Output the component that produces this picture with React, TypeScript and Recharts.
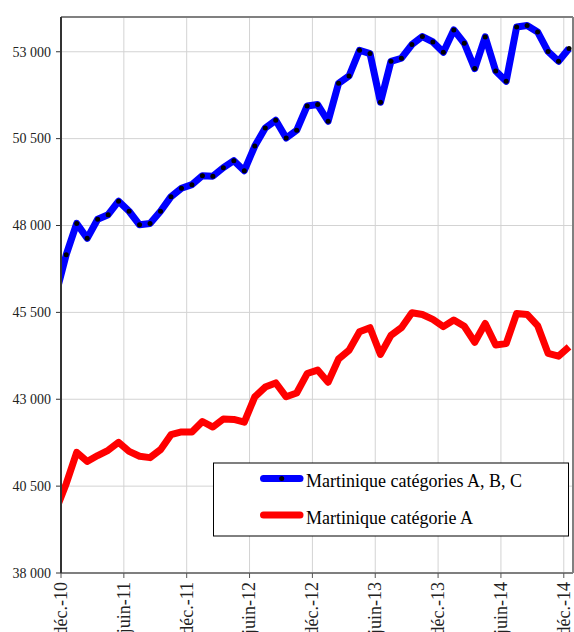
import React from "react"
import {
  LineChart,
  Line,
  XAxis,
  YAxis,
  CartesianGrid,
  ReferenceLine,
} from "recharts"

// monthly values, nov.-10 .. déc.-14 (first point falls just left of the axis)
const abcValues = [
  46000, 47160, 48060, 47630, 48180, 48310, 48700, 48410, 48020, 48060,
  48410, 48830, 49070, 49175, 49435, 49420, 49665, 49866, 49578, 50287,
  50805, 51027, 50517, 50740, 51440, 51480, 51000, 52093, 52303, 53043,
  52948, 51545, 52726, 52813, 53207, 53438, 53282, 52986, 53628, 53245,
  52516, 53426, 52447, 52150, 53714, 53755, 53570, 53006, 52726, 53092,
]

const aValues = [
  39800, 40570, 41470, 41210, 41380, 41530, 41760, 41500, 41360, 41320,
  41550, 41980, 42060, 42060, 42360, 42200, 42430, 42420, 42340, 43070,
  43350, 43470, 43070, 43180, 43740, 43840, 43490, 44160, 44410, 44940,
  45060, 44290, 44840, 45060, 45490, 45440, 45300, 45090, 45280, 45100,
  44640, 45180, 44560, 44600, 45470, 45440, 45120, 44320, 44240, 44510,
]

const xLabels = [
  "déc.-10", "juin-11", "déc.-11", "juin-12", "déc.-12",
  "juin-13", "déc.-13", "juin-14", "déc.-14",
]
const xTicks = [0, 6, 12, 18, 24, 30, 36, 42, 48]
const yTicks = [38000, 40500, 43000, 45500, 48000, 50500, 53000]

const seriesNames = ["Martinique catégories A, B, C", "Martinique catégorie A"]

// months counted from déc.-10, points sit mid-month
const data = abcValues.map((v, i) => ({ x: i - 0.5, abc: v, a: aValues[i] }))

const FONT = '"Liberation Serif", "Times New Roman", Times, serif'
const X_MAX = 48.88

const fmtY = (v: number) =>
  `${Math.floor(v / 1000)} ${String(v % 1000).padStart(3, "0")}`

function XTick({ x, y, payload }: any) {
  const idx = xTicks.indexOf(payload.value)
  return (
    <text
      x={x}
      y={y}
      transform={`rotate(-90, ${x}, ${y})`}
      textAnchor="end"
      dy="0.33em"
      style={{ fontFamily: FONT, fontSize: 18 }}
      fill="#222"
    >
      {xLabels[idx]}
    </text>
  )
}

function YTick({ x, y, payload }: any) {
  return (
    <text
      x={x}
      y={y}
      textAnchor="end"
      dy="0.34em"
      style={{ fontFamily: FONT, fontSize: 14 }}
      fill="#222"
    >
      {fmtY(payload.value)}
    </text>
  )
}

function Dot(props: any) {
  const { cx, cy, payload, index } = props
  if (payload.x < 0) return <g key={index} />
  return <circle key={index} cx={cx} cy={cy} r={2.5} fill="#000" />
}

function ChartLegend() {
  return (
    <svg
      width={574}
      height={632}
      style={{ position: "absolute", left: 0, top: 0, pointerEvents: "none" }}
    >
      <rect x={213.5} y={463} width={355} height={73} fill="#fff" stroke="#000" strokeWidth={1} />
      <line x1={263.5} x2={300} y1={478.5} y2={478.5} stroke="#0000ff" strokeWidth={7} strokeLinecap="round" />
      <circle cx={281.7} cy={478.5} r={2.5} fill="#000" />
      <text x={306} y={486.7} style={{ fontFamily: FONT, fontSize: 18 }} fill="#000">
        {seriesNames[0]}
      </text>
      <line x1={263.5} x2={300} y1={515} y2={515} stroke="#ff0000" strokeWidth={7} strokeLinecap="round" />
      <text x={306} y={524} style={{ fontFamily: FONT, fontSize: 18 }} fill="#000">
        {seriesNames[1]}
      </text>
    </svg>
  )
}

export default function App() {
  return (
    <div
      style={{
        position: "absolute",
        left: 0,
        top: 0,
        width: 574,
        height: 632,
        overflow: "hidden",
        background: "#fff",
        fontFamily: FONT,
      }}
    >
      <LineChart
        width={574}
        height={632}
        data={data}
        margin={{ top: 17, right: 1, left: 0, bottom: 0 }}
      >
        <CartesianGrid stroke="#d3d3d3" strokeWidth={1} />
        <XAxis
          dataKey="x"
          type="number"
          domain={[0, X_MAX]}
          ticks={xTicks}
          allowDataOverflow
          interval={0}
          height={59}
          tickSize={5}
          tickMargin={4}
          axisLine={{ stroke: "#7f7f7f", strokeWidth: 2 }}
          tickLine={{ stroke: "#555" }}
          tick={<XTick />}
        />
        <YAxis
          type="number"
          domain={[38000, 54000]}
          ticks={yTicks}
          allowDataOverflow
          interval={0}
          width={61}
          tickSize={5}
          tickMargin={5}
          axisLine={{ stroke: "#333", strokeWidth: 2 }}
          tickLine={{ stroke: "#333" }}
          tick={<YTick />}
        />
        <ReferenceLine y={54000} stroke="#808080" strokeWidth={2} />
        <ReferenceLine x={X_MAX} stroke="#808080" strokeWidth={2} />
        <Line
          dataKey="a"
          name={seriesNames[1]}
          stroke="#ff0000"
          strokeWidth={7}
          strokeLinejoin="round"
          dot={false}
          activeDot={false}
          isAnimationActive={false}
        />
        <Line
          dataKey="abc"
          name={seriesNames[0]}
          stroke="#0000ff"
          strokeWidth={7}
          strokeLinejoin="round"
          dot={<Dot />}
          activeDot={false}
          isAnimationActive={false}
        />
      </LineChart>
      <ChartLegend />
    </div>
  )
}
